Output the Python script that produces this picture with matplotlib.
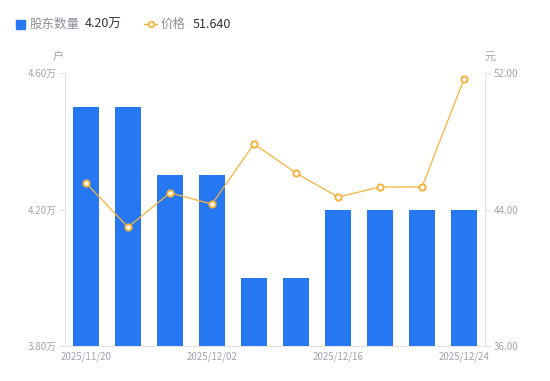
import matplotlib
matplotlib.use('Agg')
import matplotlib.pyplot as plt
from matplotlib.lines import Line2D

plt.rcParams['font.family'] = ['Noto Sans CJK SC', 'DejaVu Sans']

# data
dates = ['2025/11/20', '2025/11/25', '2025/11/28', '2025/12/02', '2025/12/05',
         '2025/12/10', '2025/12/16', '2025/12/18', '2025/12/22', '2025/12/24']
holders = [4.50, 4.50, 4.30, 4.30, 4.00, 4.00, 4.20, 4.20, 4.20, 4.20]  # 万户
price = [45.55, 42.97, 44.97, 44.32, 47.84, 46.14, 44.73, 45.32, 45.32, 51.64]
shownTicks = [0, 3, 6, 9]
leftTicks = [3.80, 4.20, 4.60]
rightTicks = [36.00, 44.00, 52.00]

blue = '#2577F2'
orange = '#F7B23B'
grey = '#A3A3B0'
axisCol = '#E3E3E8'

fig = plt.figure(figsize=(5.5, 3.81), dpi=100)
ax = fig.add_axes([65/550, 1-346/381, 420/550, 273/381])
ax2 = ax.twinx()

x = list(range(len(dates)))
ax.bar(x, holders, width=0.6, color=blue, zorder=2)
ax.set_ylim(3.80, 4.60)
ax.set_xlim(-0.5, len(dates)-0.5)
ax.set_yticks(leftTicks)
ax.set_yticklabels(['%.2f万' % v for v in leftTicks])
ax.set_xticks(shownTicks)
ax.set_xticklabels([dates[i] for i in shownTicks])

ax2.plot(x, price, color=orange, lw=0.9, marker='o', markersize=4.5,
         markerfacecolor='white', markeredgecolor=orange, markeredgewidth=1.4, zorder=3)
ax2.set_ylim(36, 52)
ax2.set_yticks(rightTicks)
ax2.set_yticklabels(['%.2f' % v for v in rightTicks])

for a in (ax, ax2):
    for s in a.spines.values():
        s.set_visible(False)
    a.tick_params(colors=grey, labelsize=7, length=4, width=0.8)
    a.tick_params(axis='y', color=axisCol)
ax.spines['left'].set_visible(True)
ax.spines['left'].set_color(axisCol)
ax.spines['bottom'].set_visible(True)
ax.spines['bottom'].set_color(axisCol)
ax2.spines['right'].set_visible(True)
ax2.spines['right'].set_color(axisCol)
ax.tick_params(axis='x', length=0, pad=4)
ax.tick_params(axis='y', pad=2)
ax2.tick_params(axis='y', pad=2)

# unit labels
fig.text(58/550, 1-57/381, '户', color=grey, fontsize=8, ha='center', va='center')
fig.text(490/550, 1-57/381, '元', color=grey, fontsize=8, ha='center', va='center')

# legend
legGrey = '#8E8E9C'
fig.patches.append(plt.Rectangle((16/550, 1-29/381), 9/550, 9/381, color=blue,
                                 transform=fig.transFigure, figure=fig))
fig.text(30/550, 1-24/381, '股东数量', color=legGrey, fontsize=9, va='center')
fig.text(85/550, 1-24/381, '%.2f万' % holders[-1], color='#333333', fontsize=9, va='center')
fig.lines.append(Line2D([144/550, 157/550], [1-24/381, 1-24/381], color=orange, lw=1,
                        transform=fig.transFigure))
fig.lines.append(Line2D([150.5/550], [1-24/381], color=orange, marker='o', markersize=4,
                        markerfacecolor='white', markeredgewidth=1.3, transform=fig.transFigure))
fig.text(161/550, 1-24/381, '价格', color=legGrey, fontsize=9, va='center')
fig.text(193/550, 1-24/381, '%.3f' % price[-1], color='#333333', fontsize=9, va='center')

fig.savefig('out.png', dpi=100)
